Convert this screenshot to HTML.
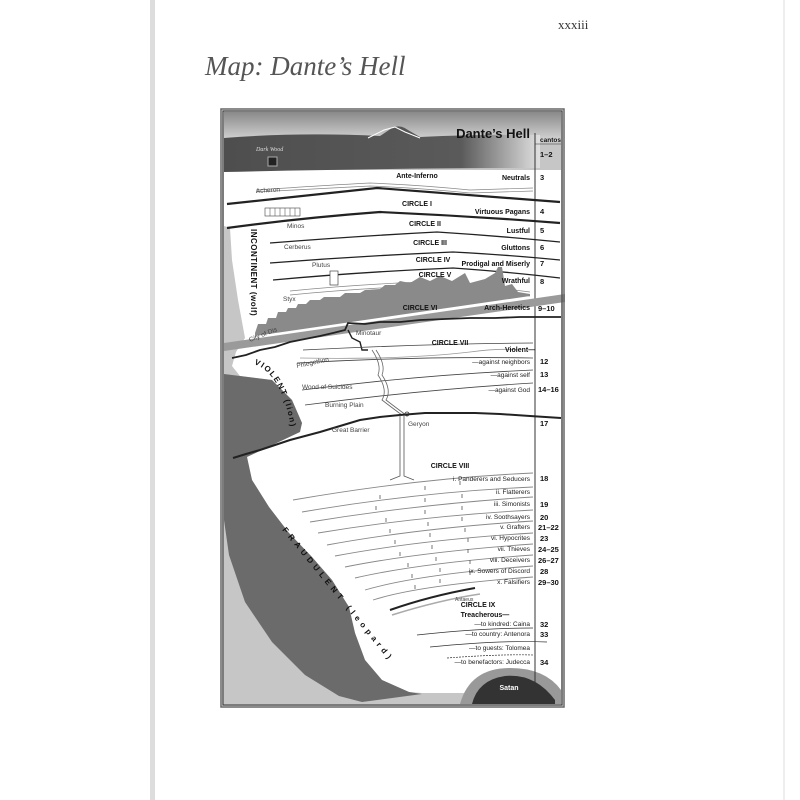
<!DOCTYPE html>
<html><head><meta charset="utf-8"><style>
html,body{margin:0;padding:0;background:#fff}
svg{display:block}
text{font-family:"Liberation Sans",sans-serif}
.b{font-weight:bold;font-size:7px;fill:#111}
.s{font-size:6.5px;fill:#444}
.n{font-weight:bold;font-size:7.5px;fill:#111}
.r{text-anchor:end}
.c{text-anchor:middle}
</style></head><body>
<svg width="800" height="800" viewBox="0 0 800 800" xmlns="http://www.w3.org/2000/svg">
<defs>
<linearGradient id="sky" x1="0" y1="0" x2="0" y2="1"><stop offset="0" stop-color="#8a8a8a"/><stop offset="1" stop-color="#d8d8d8"/></linearGradient>
<linearGradient id="wood" x1="0" y1="0" x2="1" y2="0"><stop offset="0" stop-color="#4e4e4e"/><stop offset="0.75" stop-color="#5a5a5a"/><stop offset="1" stop-color="#e0e0e0"/></linearGradient>
</defs>
<rect width="800" height="800" fill="#fff"/>
<rect x="150" y="0" width="5" height="800" fill="#ddd"/>
<rect x="783" y="0" width="2" height="800" fill="#eee"/>
<text x="558" y="29" font-size="13" fill="#333" style="font-family:'Liberation Serif',serif">xxxiii</text>
<text x="205" y="75" font-size="27" font-style="italic" fill="#555" style="font-family:'Liberation Serif',serif">Map: Dante’s Hell</text>

<rect x="222" y="110" width="341" height="596" fill="#c6c6c6"/>
<rect x="224" y="112" width="337" height="30" fill="url(#sky)"/>
<path d="M224 170 L561 170 L561 693 L520 693 L422 693 L409 692 L382 680 L365 660 L355 633 L349 607 L332 580 L312 557 L289 533 L269 507 L252 480 L247 457 L232 462 L236 440 L300 430 L302 423 L292 400 L272 380 L240 376 L232 366 L236 352 L245 338 L238 300 L232 260 L230 228 L224 226 Z" fill="#fff"/>
<path d="M224 374 L240 376 L272 380 L292 400 L302 423 L300 432 L247 457 L252 480 L269 507 L289 533 L312 557 L332 580 L349 607 L355 633 L365 660 L382 680 L409 692 L422 694 L362 702 L339 696 L305 675 L272 642 L245 602 L229 555 L224 520 Z" fill="#6b6b6b"/>
<path d="M460 704 Q470 668 510 668 Q545 668 561 690 L561 704 Z" fill="#999"/>
<path d="M472 704 Q478 680 505 676 Q535 673 555 700 L555 704 Z" fill="#333"/>
<text x="509" y="690" class="b c" style="fill:#fff">Satan</text>
<path d="M224 138 Q300 132 380 136 L392 128 Q400 124 408 130 L420 137 Q480 134 540 135 L540 168 Q400 168 224 172 Z" fill="url(#wood)"/>
<path d="M368 138 L384 130 L395 127 L405 132 L420 138" fill="none" stroke="#fff" stroke-width="1"/>
<rect x="268" y="157" width="9" height="9" fill="#222" stroke="#aaa" stroke-width="1"/>
<text x="256" y="151" font-size="6" fill="#ddd" style="font-family:'Liberation Serif',serif;font-style:italic">Dark Wood</text>
<text x="530" y="138" font-size="13" font-weight="bold" class="r" fill="#111">Dante’s Hell</text>

<line x1="535" y1="133" x2="535" y2="693" stroke="#333" stroke-width="1"/>
<line x1="535" y1="144" x2="561" y2="144" stroke="#333" stroke-width="0.6"/>
<text x="540" y="142" font-size="6.5" font-weight="bold" fill="#111">cantos</text>

<g fill="none" stroke="#222">
<path d="M256 190 Q330 185 370 183 Q420 185 470 190 L533 188" stroke="#888" stroke-width="0.7"/>
<path d="M256 192 Q330 188 370 186 Q420 188 470 193 L533 191" stroke="#888" stroke-width="0.7"/>
<path d="M227 204 Q300 196 377 188 Q470 195 560 202" stroke-width="2.2"/>
<path d="M227 228 Q300 218 380 212 Q470 216 560 223" stroke-width="2.2"/>
<path d="M270 243 Q360 236 437 232 Q500 236 560 242" stroke-width="1.3"/>
<path d="M270 263 Q360 256 453 252 Q510 255 560 260" stroke-width="1.3"/>
<path d="M273 280 Q360 272 453 268 Q510 272 560 278" stroke-width="1.3"/>
</g>
<path d="M290 291 Q350 285 420 282 Q470 284 530 292" fill="none" stroke="#888" stroke-width="0.7"/>
<path d="M290 295 Q350 289 420 286 Q470 288 530 296" fill="none" stroke="#888" stroke-width="0.7"/>
<path d="M255 333 L258 324 L266 324 L268 318 L276 318 L278 312 L286 312 L288 308 L296 308 L298 304 L306 304 L310 300 L320 300 L324 297 L340 297 L345 293 L360 293 L365 290 L380 289 L385 285 L395 285 L400 281 L410 283 L420 277 L430 281 L440 276 L452 281 L465 273 L470 283 L485 279 L495 273 L498 267 L502 267 L505 286 L512 284 L518 292 L530 294 L530 296 L255 336 Z" fill="#8a8a8a"/>
<rect x="330" y="271" width="8" height="14" fill="#fff" stroke="#444" stroke-width="0.7"/>
<path d="M224 343 L565 294 L565 302 L224 351 Z" fill="#9a9a9a"/>
<path d="M232 358 L246 355 L260 350 L275 347 L290 342 L305 339 L320 336 L333 333 L345 330 L348 323 L365 324 L380 322 L400 322 L420 320 L445 319 L470 318 L495 318 L520 317 L561 317" fill="none" stroke="#222" stroke-width="1.8"/>
<path d="M348 330 L352 338 L360 342 L362 350 L368 350" fill="none" stroke="#222" stroke-width="1.4"/>
<g fill="none" stroke="#444" stroke-width="0.8">
<path d="M303 350 Q420 344 533 343"/>
<path d="M297 363 Q420 356 533 358"/>
<path d="M302 390 Q420 375 533 370"/>
<path d="M305 405 Q420 390 533 383"/>
<path d="M300 358 Q400 360 470 352 Q500 348 520 350" stroke="#999"/>
<path d="M372 350 Q382 365 378 375 Q388 390 382 400 Q395 410 402 415" stroke="#666"/>
<path d="M376 350 Q386 365 382 375 Q392 390 386 400 Q399 410 406 415" stroke="#666"/>
</g>
<path d="M233 458 L246 454 L260 450 L275 445 L290 440 L305 436 L320 432 L340 426 L360 420 L380 417 L400 415 L425 413 L450 413 L475 413 L500 414 L530 416 L561 418" fill="none" stroke="#222" stroke-width="2"/>
<path d="M400 415 L400 476 L390 480 M404 415 L404 476 L414 480" fill="none" stroke="#555" stroke-width="0.8"/>
<circle cx="407" cy="414" r="2" fill="none" stroke="#333" stroke-width="0.8"/>
<g fill="none" stroke="#888" stroke-width="0.9">
<path d="M293 500 Q420 478 533 473"/>
<path d="M302 512 Q420 492 533 487"/>
<path d="M310 522 Q420 504 533 497"/>
<path d="M318 533 Q420 516 533 510"/>
<path d="M327 545 Q420 528 533 521"/>
<path d="M335 556 Q420 540 533 533"/>
<path d="M345 567 Q420 552 533 544"/>
<path d="M355 578 Q420 563 533 555"/>
<path d="M365 590 Q420 574 533 566"/>
<path d="M373 600 Q420 585 533 577"/>
</g>
<g stroke="#555" stroke-width="0.8">
<path d="M380 495 v4 M425 486 v4 M460 481 v4 M376 506 v4 M425 498 v4 M462 494 v4 M386 518 v4 M425 510 v4 M462 506 v4 M390 529 v4 M428 522 v4 M462 517 v4 M395 540 v4 M430 533 v4 M465 528 v4 M400 552 v4 M432 545 v4 M468 538 v4 M408 563 v4 M436 557 v4 M468 549 v4 M412 574 v4 M440 568 v4 M470 560 v4 M415 585 v4 M440 579 v4 M470 571 v4"/>
</g>
<path d="M390 610 Q430 596 475 588" fill="none" stroke="#222" stroke-width="2"/>
<path d="M392 615 Q440 600 480 594" fill="none" stroke="#aaa" stroke-width="1.5"/>
<g fill="none" stroke="#333" stroke-width="0.7">
<path d="M417 635 Q480 628 533 628"/>
<path d="M430 647 Q500 640 547 642"/>
<path d="M447 658 Q500 654 533 655" stroke-dasharray="2 1"/>
</g>

<text x="417" y="178" class="b c">Ante-Inferno</text>
<text x="530" y="180" class="b r">Neutrals</text>
<text x="256" y="193" class="s" transform="rotate(-4 256 193)">Acheron</text>
<rect x="265" y="208" width="35" height="8" fill="#fff" stroke="#444" stroke-width="0.6"/>
<path d="M270 208v8M275 208v8M280 208v8M285 208v8M290 208v8M295 208v8" stroke="#444" stroke-width="0.5"/>
<text x="417" y="206" class="b c">CIRCLE I</text>
<text x="530" y="214" class="b r">Virtuous Pagans</text>
<text x="287" y="228" class="s">Minos</text>
<text x="425" y="226" class="b c">CIRCLE II</text>
<text x="530" y="233" class="b r">Lustful</text>
<text x="284" y="249" class="s">Cerberus</text>
<text x="430" y="245" class="b c">CIRCLE III</text>
<text x="530" y="250" class="b r">Gluttons</text>
<text x="312" y="267" class="s">Plutus</text>
<text x="433" y="262" class="b c">CIRCLE IV</text>
<text x="530" y="266" class="b r">Prodigal and Miserly</text>
<text x="435" y="277" class="b c">CIRCLE V</text>
<text x="530" y="283" class="b r">Wrathful</text>
<text x="283" y="301" class="s">Styx</text>
<text x="420" y="310" class="b c">CIRCLE VI</text>
<text x="530" y="310" class="b r">Arch-Heretics</text>
<text x="250" y="342" class="s" transform="rotate(-22 250 342)">City of Dis</text>
<text x="356" y="335" class="s">Minotaur</text>
<text x="450" y="345" class="b c">CIRCLE VII</text>
<text x="505" y="352" class="b">Violent—</text>
<text x="530" y="364" class="s r" style="fill:#222">—against neighbors</text>
<text x="530" y="377" class="s r" style="fill:#222">—against self</text>
<text x="530" y="392" class="s r" style="fill:#222">—against God</text>
<text x="297" y="368" class="s" transform="rotate(-12 297 368)">Phlegethon</text>
<text x="302" y="389" class="s">Wood of Suicides</text>
<text x="325" y="407" class="s">Burning Plain</text>
<text x="332" y="432" class="s">Great Barrier</text>
<text x="408" y="426" class="s">Geryon</text>
<text x="450" y="468" class="b c">CIRCLE VIII</text>
<text x="530" y="481" class="s r" style="fill:#222">i. Panderers and Seducers</text>
<text x="530" y="494" class="s r" style="fill:#222">ii. Flatterers</text>
<text x="530" y="506" class="s r" style="fill:#222">iii. Simonists</text>
<text x="530" y="519" class="s r" style="fill:#222">iv. Soothsayers</text>
<text x="530" y="529" class="s r" style="fill:#222">v. Grafters</text>
<text x="530" y="540" class="s r" style="fill:#222">vi. Hypocrites</text>
<text x="530" y="551" class="s r" style="fill:#222">vii. Thieves</text>
<text x="530" y="562" class="s r" style="fill:#222">viii. Deceivers</text>
<text x="530" y="573" class="s r" style="fill:#222">ix. Sowers of Discord</text>
<text x="530" y="584" class="s r" style="fill:#222">x. Falsifiers</text>
<text x="455" y="601" font-size="5" fill="#444">Antaeus</text>
<text x="478" y="607" class="b c">CIRCLE IX</text>
<text x="485" y="617" class="b c">Treacherous—</text>
<text x="530" y="626" class="s r" style="fill:#222">—to kindred: Caina</text>
<text x="530" y="636" class="s r" style="fill:#222">—to country: Antenora</text>
<text x="530" y="650" class="s r" style="fill:#222">—to guests: Tolomea</text>
<text x="530" y="664" class="s r" style="fill:#222">—to benefactors: Judecca</text>

<g>
<text x="540" y="157" class="n">1–2</text>
<text x="540" y="180" class="n">3</text>
<text x="540" y="214" class="n">4</text>
<text x="540" y="233" class="n">5</text>
<text x="540" y="250" class="n">6</text>
<text x="540" y="266" class="n">7</text>
<text x="540" y="284" class="n">8</text>
<text x="538" y="311" class="n">9–10</text>
<text x="540" y="364" class="n">12</text>
<text x="540" y="377" class="n">13</text>
<text x="538" y="392" class="n">14–16</text>
<text x="540" y="426" class="n">17</text>
<text x="540" y="481" class="n">18</text>
<text x="540" y="507" class="n">19</text>
<text x="540" y="520" class="n">20</text>
<text x="538" y="530" class="n">21–22</text>
<text x="540" y="541" class="n">23</text>
<text x="538" y="552" class="n">24–25</text>
<text x="538" y="563" class="n">26–27</text>
<text x="540" y="574" class="n">28</text>
<text x="538" y="585" class="n">29–30</text>
<text x="540" y="627" class="n">32</text>
<text x="540" y="637" class="n">33</text>
<text x="540" y="665" class="n">34</text>
</g>

<text font-size="8" font-weight="bold" fill="#111" letter-spacing="0.5" transform="translate(251 229) rotate(90)">INCONTINENT (wolf)</text>
<path id="pv" d="M254 364 Q283 374 292 434" fill="none"/>
<text font-size="8" font-weight="bold" fill="#111" letter-spacing="1.5"><textPath href="#pv">VIOLENT (lion)</textPath></text>
<path id="pf" d="M282 530 L395 668" fill="none"/>
<text font-size="8" font-weight="bold" fill="#111" letter-spacing="4"><textPath href="#pf">FRAUDULENT (leopard)</textPath></text>

<rect x="223" y="111" width="339" height="594" fill="none" stroke="#333" stroke-width="1"/>
<rect x="221" y="109" width="343" height="598" fill="none" stroke="#666" stroke-width="1.5"/>
</svg>
</body></html>
